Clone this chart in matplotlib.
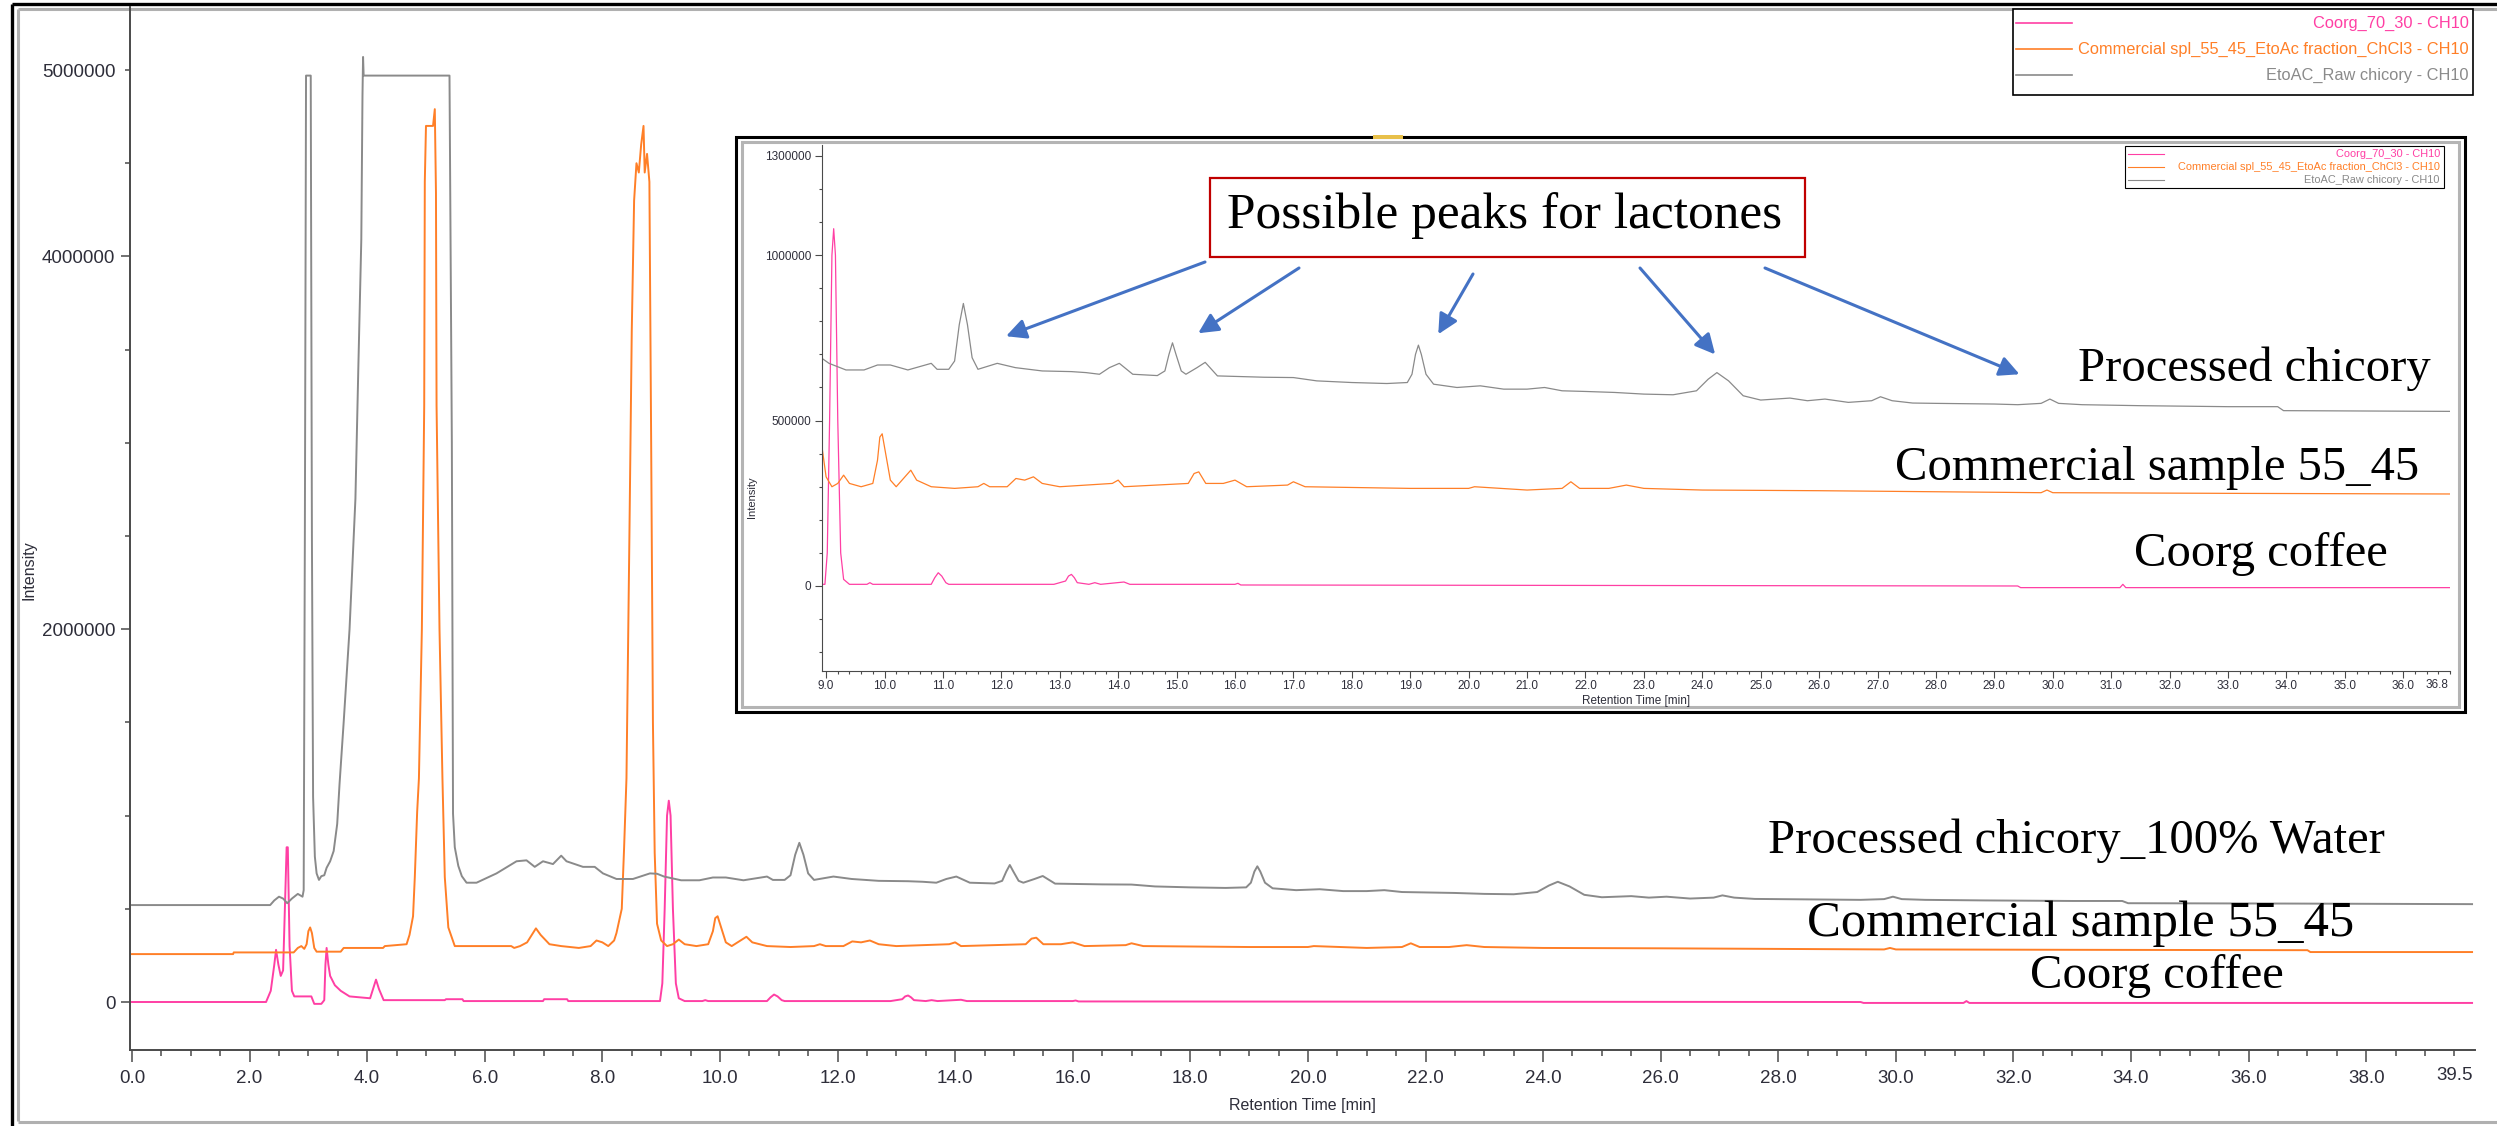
import numpy as np
import matplotlib
matplotlib.use("Agg")
import matplotlib.pyplot as plt
from matplotlib.patches import Rectangle
from matplotlib.ticker import MultipleLocator, FixedLocator, FixedFormatter

W, H = 2497, 1126
DPI = 100

# ---- data: retention time [min] and intensity [millions] ----
series_labels = ["Coorg_70_30 - CH10",
                 "Commercial spl_55_45_EtoAc fraction_ChCl3 - CH10",
                 "EtoAC_Raw chicory - CH10"]
series_colors = ["#FF3FA4", "#FF7F27", "#8A8A8A"]

coorg_t = [0.0, 2.28, 2.36, 2.42, 2.45, 2.49, 2.53, 2.57, 2.60, 2.63, 2.65, 2.68, 2.72, 2.76,
           3.05, 3.10, 3.22, 3.27, 3.29, 3.31, 3.34, 3.37, 3.45, 3.55, 3.70, 4.05, 4.10, 4.15,
           4.20, 4.28, 5.32, 5.34, 5.62, 5.64, 6.99, 7.01, 7.40, 7.42, 8.98, 9.02, 9.06, 9.10,
           9.13, 9.16, 9.20, 9.25, 9.30, 9.40, 9.70, 9.75, 9.80, 10.80, 10.86, 10.92, 10.98,
           11.05, 11.10, 12.90, 13.10, 13.15, 13.20, 13.25, 13.30, 13.50, 13.60, 13.70, 14.10,
           14.20, 16.00, 16.05, 16.10, 29.40, 29.45, 31.15, 31.20, 31.25, 39.80]
coorg_mio = [0.0, 0.0, 0.06, 0.20, 0.28, 0.20, 0.14, 0.17, 0.50, 0.83, 0.83, 0.30, 0.06, 0.03,
             0.03, -0.01, -0.01, 0.01, 0.20, 0.29, 0.20, 0.14, 0.09, 0.06, 0.03, 0.02, 0.07, 0.12,
             0.07, 0.01, 0.01, 0.015, 0.015, 0.005, 0.005, 0.015, 0.015, 0.005, 0.005, 0.10, 0.50,
             1.00, 1.08, 1.00, 0.50, 0.10, 0.02, 0.005, 0.005, 0.01, 0.005, 0.005, 0.025, 0.04,
             0.03, 0.01, 0.005, 0.005, 0.015, 0.03, 0.035, 0.025, 0.01, 0.005, 0.01, 0.005,
             0.012, 0.005, 0.005, 0.008, 0.003, 0.0, -0.005, -0.005, 0.005, -0.005, -0.005]

comm_t = [0.0, 1.72, 1.73, 2.75, 2.82, 2.88, 2.93, 2.97, 3.00, 3.03, 3.06, 3.10, 3.14, 3.55,
          3.60, 4.27, 4.30, 4.67, 4.72, 4.78, 4.81, 4.85, 4.88, 4.93, 4.97, 4.98, 5.00, 5.12,
          5.15, 5.17, 5.18, 5.23, 5.28, 5.32, 5.38, 5.49, 6.45, 6.50, 6.60, 6.72, 6.87, 6.95,
          7.10, 7.30, 7.60, 7.80, 7.90, 8.00, 8.10, 8.20, 8.24, 8.33, 8.37, 8.41, 8.46, 8.50,
          8.54, 8.58, 8.62, 8.66, 8.70, 8.72, 8.76, 8.80, 8.83, 8.86, 8.89, 8.93, 9.00, 9.10,
          9.20, 9.30, 9.40, 9.60, 9.80, 9.88, 9.92, 9.96, 10.00, 10.10, 10.20, 10.35, 10.45,
          10.55, 10.80, 11.20, 11.60, 11.70, 11.80, 12.10, 12.25, 12.40, 12.55, 12.70, 13.00,
          13.90, 14.00, 14.10, 15.20, 15.30, 15.38, 15.50, 15.80, 16.00, 16.20, 16.90, 17.00,
          17.20, 19.00, 20.00, 20.10, 21.00, 21.60, 21.75, 21.90, 22.40, 22.70, 23.00, 24.00,
          26.00, 28.00, 29.80, 29.90, 30.00, 33.00, 37.00, 37.05, 39.80]
comm_mio = [0.257, 0.257, 0.266, 0.266, 0.29, 0.30, 0.285, 0.31, 0.38, 0.40, 0.37, 0.29, 0.27,
            0.27, 0.29, 0.29, 0.30, 0.31, 0.36, 0.46, 0.67, 1.02, 1.20, 2.00, 3.20, 4.40, 4.70,
            4.70, 4.79, 4.34, 3.20, 2.00, 1.20, 0.67, 0.40, 0.30, 0.30, 0.29, 0.30, 0.32, 0.395,
            0.36, 0.31, 0.30, 0.29, 0.30, 0.33, 0.32, 0.30, 0.33, 0.37, 0.50, 0.83, 1.20, 2.50,
            3.60, 4.30, 4.50, 4.45, 4.60, 4.70, 4.45, 4.55, 4.40, 3.00, 1.50, 0.80, 0.42, 0.33,
            0.30, 0.31, 0.335, 0.31, 0.30, 0.31, 0.38, 0.45, 0.46, 0.42, 0.32, 0.30, 0.33, 0.35,
            0.32, 0.30, 0.295, 0.30, 0.31, 0.30, 0.30, 0.325, 0.32, 0.33, 0.31, 0.30, 0.31, 0.32,
            0.30, 0.31, 0.34, 0.345, 0.31, 0.31, 0.32, 0.30, 0.305, 0.315, 0.30, 0.295, 0.295,
            0.30, 0.29, 0.295, 0.315, 0.295, 0.295, 0.305, 0.295, 0.29, 0.288, 0.285, 0.282,
            0.29, 0.282, 0.28, 0.278, 0.268, 0.268]

raw_t = [0.0, 2.35, 2.42, 2.50, 2.57, 2.64, 2.72, 2.82, 2.90, 2.92, 2.94, 2.96, 3.04, 3.06,
         3.08, 3.11, 3.14, 3.18, 3.22, 3.27, 3.31, 3.37, 3.43, 3.49, 3.53, 3.60, 3.70, 3.80,
         3.85, 3.90, 3.92, 3.93, 3.94, 5.40, 5.44, 5.46, 5.49, 5.55, 5.61, 5.69, 5.86, 6.20,
         6.54, 6.71, 6.85, 6.99, 7.16, 7.30, 7.39, 7.67, 7.87, 8.01, 8.24, 8.52, 8.81, 8.93,
         9.05, 9.34, 9.65, 9.88, 10.10, 10.40, 10.80, 10.90, 11.10, 11.20, 11.28, 11.35, 11.42,
         11.50, 11.60, 11.93, 12.24, 12.70, 13.20, 13.45, 13.68, 13.85, 14.02, 14.25, 14.67,
         14.80, 14.87, 14.93, 14.99, 15.08, 15.16, 15.35, 15.49, 15.70, 16.50, 17.00, 17.40,
         18.00, 18.60, 18.95, 19.03, 19.09, 19.14, 19.19, 19.27, 19.40, 19.80, 20.20, 20.60,
         21.00, 21.30, 21.60, 22.00, 22.50, 23.00, 23.50, 23.90, 24.10, 24.25, 24.45, 24.70,
         25.00, 25.50, 25.80, 26.10, 26.50, 26.90, 27.05, 27.25, 27.60, 28.00, 29.00, 29.40,
         29.80, 29.95, 30.10, 30.50, 31.50, 33.00, 33.85, 33.95, 36.80, 39.80]
raw_mio = [0.52, 0.52, 0.545, 0.565, 0.555, 0.53, 0.555, 0.58, 0.565, 0.60, 2.50, 4.97, 4.97,
           2.50, 1.10, 0.78, 0.69, 0.655, 0.675, 0.68, 0.72, 0.755, 0.81, 0.955, 1.17, 1.50, 2.00,
           2.70, 3.41, 4.09, 4.86, 5.07, 4.97, 4.97, 3.00, 1.01, 0.83, 0.73, 0.675, 0.64, 0.64,
           0.69, 0.755, 0.76, 0.725, 0.755, 0.74, 0.785, 0.755, 0.725, 0.725, 0.69, 0.66, 0.66,
           0.69, 0.688, 0.673, 0.653, 0.653, 0.668, 0.668, 0.653, 0.673, 0.655, 0.655, 0.68,
           0.79, 0.854, 0.79, 0.69, 0.655, 0.673, 0.66, 0.65, 0.648, 0.645, 0.64, 0.66, 0.673,
           0.64, 0.636, 0.65, 0.70, 0.735, 0.70, 0.65, 0.64, 0.66, 0.676, 0.635, 0.631, 0.63,
           0.62, 0.615, 0.612, 0.615, 0.64, 0.70, 0.728, 0.70, 0.64, 0.61, 0.60, 0.605, 0.595,
           0.595, 0.60, 0.59, 0.588, 0.585, 0.58, 0.578, 0.59, 0.625, 0.645, 0.62, 0.575, 0.562,
           0.568, 0.56, 0.565, 0.555, 0.56, 0.572, 0.56, 0.553, 0.552, 0.55, 0.548, 0.552,
           0.565, 0.552, 0.548, 0.545, 0.542, 0.542, 0.53, 0.528, 0.525]

series_t = [coorg_t, comm_t, raw_t]
series_mio = [coorg_mio, comm_mio, raw_mio]

main_xticks = np.arange(0, 39, 2.0)
main_yticks = [0, 2000000, 4000000, 5000000]
inset_xticks = np.arange(9, 37, 1.0)
inset_yticks = [0, 500000, 1000000, 1300000]

main_names = ["Processed chicory_100% Water", "Commercial sample 55_45", "Coorg coffee"]
inset_names = ["Processed chicory", "Commercial sample 55_45", "Coorg coffee"]
callout = "Possible peaks for lactones"

# ---- fonts ----
UI = ["Liberation Sans", "DejaVu Sans"]
SERIF = ["Liberation Serif", "DejaVu Serif"]
TICKC = "#2e2e3a"
AXC = "#4a4a4a"


def rect(x0, y0, x1, y1):
    return [x0 / W, 1 - y1 / H, (x1 - x0) / W, (y1 - y0) / H]


def pixel_axes(z):
    a = fig.add_axes([0, 0, 1, 1], zorder=z)
    a.set_xlim(0, W)
    a.set_ylim(H, 0)
    a.set_facecolor("none")
    a.axis("off")
    return a


def style_axes(ax, big):
    for s in ["top", "right"]:
        ax.spines[s].set_visible(False)
    lw = 1.4 if big else 0.8
    for s in ["left", "bottom"]:
        ax.spines[s].set_color(AXC)
        ax.spines[s].set_linewidth(lw)
    ax.set_facecolor("none")


fig = plt.figure(figsize=(W / DPI, H / DPI), dpi=DPI)
fig.patch.set_facecolor("white")

# ---- window frame ----
bg = pixel_axes(-1)
bg.plot([12, W], [4, 4], color="black", lw=2.4, solid_capstyle="butt")
bg.plot([12, 12], [4, H], color="black", lw=2.4, solid_capstyle="butt")
bg.plot([18, W], [8.5, 8.5], color="#B0B0B0", lw=2.2, solid_capstyle="butt")
bg.plot([18, 18], [8.5, 1121], color="#B0B0B0", lw=2.2, solid_capstyle="butt")
bg.plot([18, W], [1122, 1122], color="#B0B0B0", lw=2.2, solid_capstyle="butt")

# ---- main chromatogram ----
ax = fig.add_axes(rect(130, 7, 2475, 1050), zorder=1)
style_axes(ax, True)
for t, v, c in zip(series_t, series_mio, series_colors):
    ax.plot(t, np.array(v) * 1e6, color=c, lw=1.4)
ax.set_xlim(-0.034, 39.85)
ax.set_ylim(-257500, 5338000)
ax.xaxis.set_major_locator(FixedLocator(main_xticks))
ax.xaxis.set_major_formatter(FixedFormatter([f"{v:.1f}" for v in main_xticks]))
ax.xaxis.set_minor_locator(MultipleLocator(0.5))
ax.yaxis.set_major_locator(FixedLocator(main_yticks))
ax.yaxis.set_major_formatter(FixedFormatter([str(v) for v in main_yticks]))
ax.yaxis.set_minor_locator(MultipleLocator(500000))
ax.tick_params(axis="x", which="major", length=8.6, width=1.1, color=AXC, pad=6,
               labelsize=13.5, labelcolor=TICKC)
ax.tick_params(axis="x", which="minor", length=4.3, width=1.1, color=AXC)
ax.tick_params(axis="y", which="major", length=6.5, width=1.1, color=AXC, pad=4,
               labelsize=13.5, labelcolor=TICKC)
ax.tick_params(axis="y", which="minor", length=3.6, width=1.1, color=AXC)
for lab in ax.get_xticklabels() + ax.get_yticklabels():
    lab.set_family(UI)
ax.yaxis.get_major_ticks()[3].tick1line.set_markersize(3.6)
ax.annotate("39.5", xy=(39.5, 0), xycoords=("data", "axes fraction"), xytext=(0, -25),
            textcoords="offset pixels", ha="center", va="center", fontsize=13.5,
            family=UI, color=TICKC)
ax.set_xlabel("Retention Time [min]", family=UI, fontsize=11.5, color=TICKC, labelpad=8)
ax.set_ylabel("Intensity", family=UI, fontsize=11.5, color=TICKC, labelpad=14)
ax.yaxis.set_label_coords(-0.040, 0.46)

# ---- inset window ----
ov = pixel_axes(2)
ov.add_patch(Rectangle((736, 137), 2465 - 736, 712 - 137, facecolor="white",
                       edgecolor="black", lw=2.2))
ov.add_patch(Rectangle((742, 142), 2459 - 742, 707 - 142, facecolor="none",
                       edgecolor="#B4B4B4", lw=2.2))
ov.add_patch(Rectangle((1373, 135), 30, 4, facecolor="#E8C04A", edgecolor="none"))

ins = fig.add_axes(rect(822, 145, 2450, 671), zorder=3)
style_axes(ins, False)
for t, v, c in zip(series_t, series_mio, series_colors):
    ins.plot(t, np.array(v) * 1e6, color=c, lw=0.9)
ins.set_xlim(8.93, 36.8)
ins.set_ylim(-257000, 1333000)
ins.xaxis.set_major_locator(FixedLocator(inset_xticks))
ins.xaxis.set_major_formatter(FixedFormatter([f"{v:.1f}" for v in inset_xticks]))
ins.xaxis.set_minor_locator(MultipleLocator(0.2))
ins.yaxis.set_major_locator(FixedLocator(inset_yticks))
ins.yaxis.set_major_formatter(FixedFormatter([str(v) for v in inset_yticks]))
ins.yaxis.set_minor_locator(MultipleLocator(100000))
ins.tick_params(axis="both", which="major", length=5, width=0.8, color=AXC, pad=1.5,
                labelsize=8.5, labelcolor=TICKC)
ins.tick_params(axis="y", which="major", pad=2.5)
ins.tick_params(axis="both", which="minor", length=2.4, width=0.8, color=AXC)
for lab in ins.get_xticklabels() + ins.get_yticklabels():
    lab.set_family(UI)
ins.annotate("36.8", xy=(1.0, 0), xycoords="axes fraction", xytext=(-2, -14),
             textcoords="offset pixels", ha="right", va="center", fontsize=8.5,
             family=UI, color=TICKC)
ins.set_xlabel("Retention Time [min]", family=UI, fontsize=8.5, color=TICKC)
ins.xaxis.set_label_coords(0.50, -0.046)
ins.set_ylabel("Intensity", family=UI, fontsize=8, color=TICKC)
ins.yaxis.set_label_coords(-0.040, 0.33)

# ---- overlay: legends, labels, call-out ----
top = pixel_axes(4)


def legend(x0, y0, x1, y1, rows, seg, size, lw):
    top.add_patch(Rectangle((x0, y0), x1 - x0, y1 - y0, facecolor="white",
                            edgecolor="black", lw=lw))
    for lab, c, yy in zip(series_labels, series_colors, rows):
        top.plot([x0 + 3, x0 + 3 + seg], [yy, yy], color=c, lw=lw)
        top.text(x1 - 4, yy, lab, ha="right", va="center", color=c, fontsize=size,
                 family=UI)


legend(2013, 9, 2473, 95, [23, 49, 75], 56, 11.8, 1.2)
legend(2125, 146, 2444, 188, [154, 167, 180], 36, 7.9, 0.8)

main_pos = [(1768, 841), (1807, 924), (2030, 976)]
main_size = [35, 36.5, 35]
for name, (x, y), fs in zip(main_names, main_pos, main_size):
    top.text(x, y, name, ha="left", va="center", fontsize=fs, family=SERIF, color="black")
for name, (x, y) in zip(inset_names, [(2078, 369), (1895, 468), (2134, 554)]):
    top.text(x, y, name, ha="left", va="center", fontsize=35, family=SERIF, color="black")

top.add_patch(Rectangle((1210, 178), 1805 - 1210, 257 - 178, facecolor="white",
                        edgecolor="#C00000", lw=1.6))
top.text(1227, 216, callout, ha="left", va="center", fontsize=37, family=SERIF,
         color="black")

arrow_tails = [(1205, 262), (1299, 268), (1473, 274), (1640, 268), (1765, 268)]
arrow_tips = [(12.08, 755000), (15.37, 764000), (19.48, 761000), (24.22, 700000),
              (29.43, 640000)]
for tail, tip in zip(arrow_tails, arrow_tips):
    top.annotate("", xy=tip, xycoords=ins.transData, xytext=tail, textcoords=top.transData,
                 arrowprops=dict(arrowstyle="-|>", color="#4472C4", lw=2.2,
                                 mutation_scale=30, shrinkA=0, shrinkB=0))

fig.savefig("out.png", dpi=DPI, facecolor="white")
